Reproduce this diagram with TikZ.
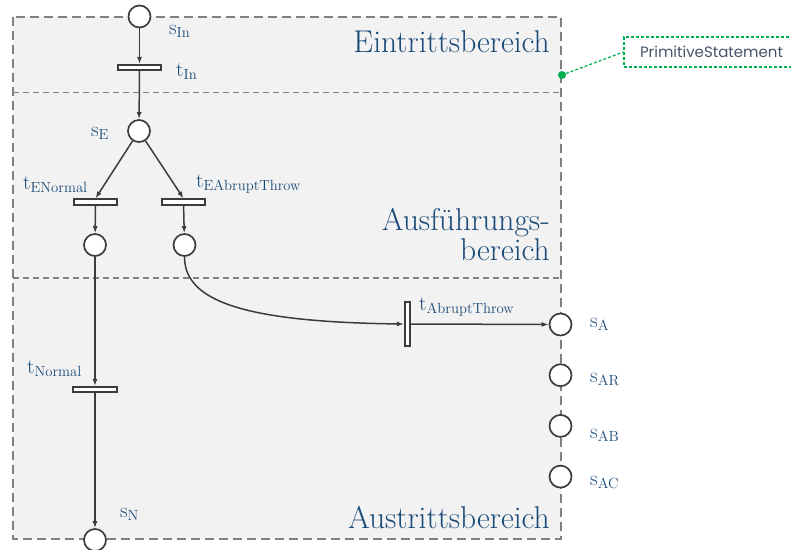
\documentclass[tikz,border=0pt]{standalone}
\usepackage{fontspec}
\newfontfamily\notefont{Poppins}
\usetikzlibrary{arrows.meta,positioning}
\definecolor{pnblue}{HTML}{1A4A78}
\definecolor{pnline}{HTML}{3C3C3C}
\definecolor{areagray}{HTML}{808080}
\definecolor{areafill}{HTML}{F2F2F2}
\definecolor{notegreen}{HTML}{00B050}
\definecolor{notetext}{HTML}{44546A}
\tikzset{
  place/.style={circle, draw=pnline, line width=1.7pt, fill=white, minimum size=22pt, inner sep=0pt},
  trans/.style={rectangle, draw=pnline, line width=1.7pt, fill=white,
    minimum width=43.5pt, minimum height=5.5pt, inner sep=0pt},
  vtrans/.style={trans, minimum width=5.5pt, minimum height=43.5pt},
  arr/.style={-{Latex[length=7pt,width=5pt]}, line width=1.5pt, draw=pnline},
  lbl/.style={text=pnblue, font=\fontsize{21}{25}\selectfont, inner sep=0pt, anchor=base west},
  region/.style={text=pnblue, font=\fontsize{31.5}{30}\selectfont, align=right, inner sep=0pt, anchor=base east},
  arealine/.style={draw=areagray, dash pattern=on 6pt off 4pt, line width=1.3pt},
  areabox/.style={draw=areagray, dash pattern=on 9pt off 5pt, line width=2.4pt},
  note/.style={draw=notegreen, dash pattern=on 3pt off 2pt, line width=1.2pt, text=notetext,
    font=\notefont\fontsize{15}{18}\selectfont, minimum width=175pt, minimum height=30pt},
  notelink/.style={draw=notegreen, dash pattern=on 3pt off 2pt, line width=1.2pt}
}

\begin{document}
\begin{tikzpicture}[x=1pt, y=-1pt]
  \useasboundingbox (0,0) rectangle (791,549);

  % Bereiche
  \fill[areafill] (13,17) rectangle (561,539);
  \draw[arealine] (13,92.5) -- (561,92.5);
  \draw[arealine] (13,278) -- (561,278);
  \draw[areabox] (13,17) rectangle (561,539);

  \node[region] (eintritt) at (550,52) {Eintrittsbereich};
  \node[region] (ausfuehr) at (550,260) {Ausführungs-\\bereich};
  \node[region] (austritt) at (550,528) {Austrittsbereich};

  % Stellen und Transitionen
  \node[place] (sIn) at (139.5,16.5) {};
  \node[trans] (tIn) at (139.5,67.5) {};
  \node[place] (sE) at (139,131) {};
  \node[trans] (tEN) at (95.5,202) {};
  \node[trans] (tEA) at (183.5,202) {};
  \node[place] (pN) at (95,245) {};
  \node[place] (pA) at (184.5,245) {};
  \node[trans] (tN) at (95,389.5) {};
  \node[place] (sN) at (95,540) {};
  \node[vtrans] (tAT) at (407.5,324) {};
  \node[place] (sA) at (560.5,324.5) {};
  \node[place, below=27pt of sA] (sAR) {};
  \node[place, below=27pt of sAR] (sAB) {};
  \node[place, below=27pt of sAB] (sAC) {};

  \draw[arr] (sIn) -- (tIn);
  \draw[arr] (tIn) -- (sE);
  \draw[arr] (sE) -- (tEN.north);
  \draw[arr] (sE) -- (tEA.north);
  \draw[arr] (tEN) -- (pN);
  \draw[arr] (tEA) -- (pA);
  \draw[arr] (pN) -- (tN);
  \draw[arr] (tN) -- (sN);
  \draw[arr] (pA.south) .. controls +(0,43) and +(-164,-2) .. (tAT.west);
  \draw[arr] (tAT) -- (sA);

  % Beschriftungen
  \node[lbl] (lsIn) at (169,34) {s\textsubscript{In}};
  \node[lbl] (ltIn) at (176,76) {t\textsubscript{In}};
  \node[lbl] (lsE) at (91,136) {s\textsubscript{E}};
  \node[lbl] (ltEN) at (23,189) {t\textsubscript{ENormal}};
  \node[lbl] (ltEA) at (196,187) {t\textsubscript{EAbruptThrow}};
  \node[lbl] (ltAT) at (419,310) {t\textsubscript{AbruptThrow}};
  \node[lbl] (ltN) at (27,373) {t\textsubscript{Normal}};
  \node[lbl] (lsN) at (120,517) {s\textsubscript{N}};
  \node[lbl] (lsA) at (590,327) {s\textsubscript{A}};
  \node[lbl] (lsAR) at (590,382) {s\textsubscript{AR}};
  \node[lbl] (lsAB) at (590,438) {s\textsubscript{AB}};
  \node[lbl] (lsAC) at (590,485) {s\textsubscript{AC}};

  % Notiz
  \node[note] (prim) at (711.5,52) {PrimitiveStatement};
  \node[circle, fill=notegreen, inner sep=0pt, minimum size=8pt] (dot) at (562,75) {};
  \draw[notelink] (dot) -- (prim.west);
\end{tikzpicture}
\end{document}
